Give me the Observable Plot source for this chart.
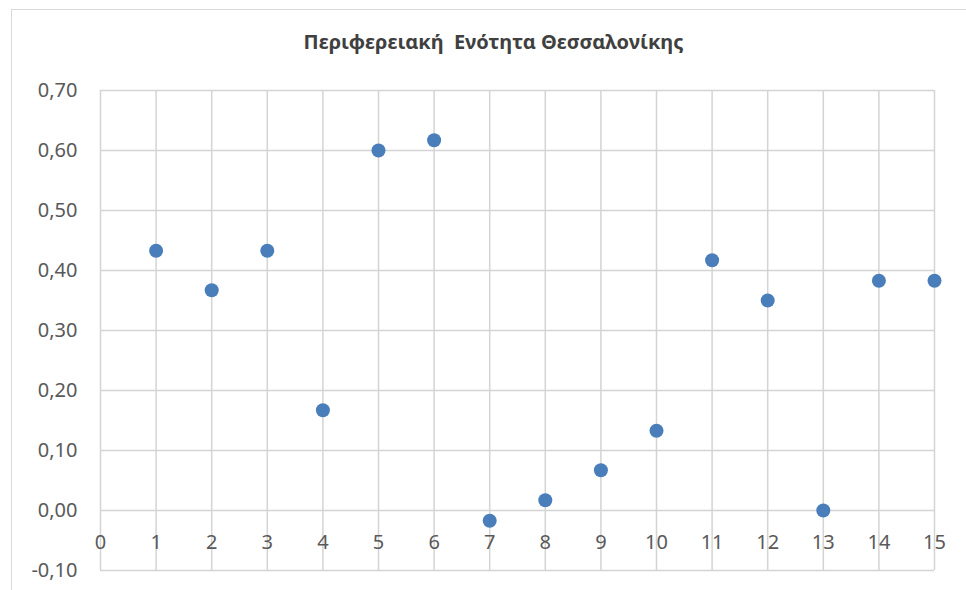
<!DOCTYPE html>
<html>
<head>
<meta charset="utf-8">
<script src="https://cdn.jsdelivr.net/npm/d3@7"></script>
<script src="https://cdn.jsdelivr.net/npm/@observablehq/plot@0.6"></script>
<style>
  html, body { margin: 0; padding: 0; background: #fff; }
  #wrap { position: relative; width: 966px; height: 590px; overflow: hidden; }
  #border { position: absolute; left: 11px; top: 9px; width: 1000px; height: 700px;
            border: 1.5px solid #d9d9d9; box-sizing: border-box; pointer-events: none; }
  #chart { position: absolute; left: 0; top: 0; }
</style>
</head>
<body>
<div id="wrap"><div id="chart"></div><div id="border"></div></div>
<script>
const title = "Περιφερειακή  Ενότητα Θεσσαλονίκης";
const xValues = [1, 2, 3, 4, 5, 6, 7, 8, 9, 10, 11, 12, 13, 14, 15];
const yValues = [0.433, 0.367, 0.433, 0.167, 0.600, 0.617, -0.017, 0.017, 0.067, 0.133, 0.417, 0.350, 0.000, 0.383, 0.383];
const xTicks = [0, 1, 2, 3, 4, 5, 6, 7, 8, 9, 10, 11, 12, 13, 14, 15];
const yTicks = [-0.1, 0, 0.1, 0.2, 0.3, 0.4, 0.5, 0.6, 0.7];

const points = xValues.map((x, i) => ({x, y: yValues[i]}));
const fmt = v => v.toFixed(2).replace(".", ",");
const font = "'Noto Sans', 'Open Sans', sans-serif";
const textColor = "#595959";
const gridColor = "#d4d4d4";

const chart = Plot.plot({
  width: 966,
  height: 590,
  marginLeft: 100,
  marginRight: 32,
  marginTop: 90,
  marginBottom: 20,
  style: {fontFamily: font, color: textColor, background: "transparent"},
  x: {domain: [0, 15], ticks: xTicks},
  y: {domain: [-0.1, 0.7], ticks: yTicks},
  marks: [
    Plot.gridX(xTicks, {stroke: gridColor, strokeOpacity: 1, strokeWidth: 1.5}),
    Plot.gridY(yTicks, {stroke: gridColor, strokeOpacity: 1, strokeWidth: 1.5}),
    Plot.axisY(yTicks, {tickSize: 0, tickPadding: 23, tickFormat: fmt, fontSize: 20, fill: textColor, label: null}),
    Plot.axisX({ticks: [], label: null, tickSize: 0}),
    // category labels sit just under the zero line
    Plot.text(xTicks, {x: d => d, y: 0, dy: 32, text: d => String(d), fontSize: 20, fill: textColor}),
    Plot.dot(points, {x: "x", y: "y", r: 7, fill: "#4a7ebb", stroke: "none"}),
    // title is centred on the whole chart box rather than the plot area
    Plot.text([title], {frameAnchor: "top", dx: -24, dy: -56, text: d => d, fontSize: 20, fontWeight: "bold", fill: "#404040"})
  ]
});
document.getElementById("chart").appendChild(chart);
</script>
</body>
</html>
